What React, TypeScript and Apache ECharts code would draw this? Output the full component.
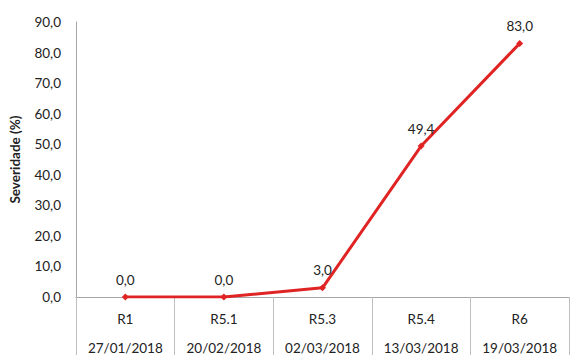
import React, { useEffect, useRef } from "react";
import * as echarts from "echarts";

const stages = ["R1", "R5.1", "R5.3", "R5.4", "R6"];
const dates = ["27/01/2018", "20/02/2018", "02/03/2018", "13/03/2018", "19/03/2018"];
const severity = [0.0, 0.0, 3.0, 49.4, 83.0];
const yTicks = [0, 10, 20, 30, 40, 50, 60, 70, 80, 90];

const fmt = (v: number) => v.toFixed(1).replace(".", ",");
const FONT = "Lato, 'Open Sans', sans-serif";

export default function App() {
  const ref = useRef<HTMLDivElement>(null);
  useEffect(() => {
    if (!ref.current) return;
    const chart = echarts.init(ref.current, undefined, { renderer: "svg" });
    const cats = stages.map((s, i) => s + "\n" + dates[i]);
    chart.setOption({
      animation: false,
      textStyle: { fontFamily: FONT },
      grid: { left: 75, right: 19, top: 22, bottom: 65 },
      xAxis: {
        type: "category",
        data: cats,
        boundaryGap: true,
        axisLine: { show: true, lineStyle: { color: "#a6a6a6", width: 1 } },
        axisTick: { show: true, interval: 0, length: 58, lineStyle: { color: "#bfbfbf" } },
        axisLabel: {
          interval: 0,
          margin: 7,
          lineHeight: 29,
          fontSize: 13.5,
          color: "#222",
          fontFamily: FONT,
        },
      },
      yAxis: {
        type: "value",
        min: yTicks[0],
        max: yTicks[yTicks.length - 1],
        interval: 10,
        name: "Severidade (%)",
        nameLocation: "middle",
        nameGap: 54,
        nameRotate: 90,
        nameTextStyle: { fontSize: 13.5, fontWeight: "bold", color: "#222", fontFamily: FONT },
        axisLine: { show: true, lineStyle: { color: "#a6a6a6", width: 1 } },
        axisTick: { show: false },
        splitLine: { show: false },
        axisLabel: {
          margin: 15,
          fontSize: 13.5,
          color: "#222",
          fontFamily: FONT,
          formatter: (v: number) => fmt(v),
        },
      },
      series: [
        {
          type: "line",
          data: severity,
          symbol: "diamond",
          symbolSize: 7,
          lineStyle: { color: "#e02424", width: 3 },
          itemStyle: { color: "#e02424" },
          label: {
            show: true,
            position: "top",
            distance: 7,
            fontSize: 13.5,
            color: "#222",
            fontFamily: FONT,
            formatter: (p: any) => fmt(p.value),
          },
        },
      ],
    });
    return () => chart.dispose();
  }, []);
  return <div ref={ref} style={{ width: 588, height: 362, position: "absolute", left: 0, top: 0, background: "#fff" }} />;
}
